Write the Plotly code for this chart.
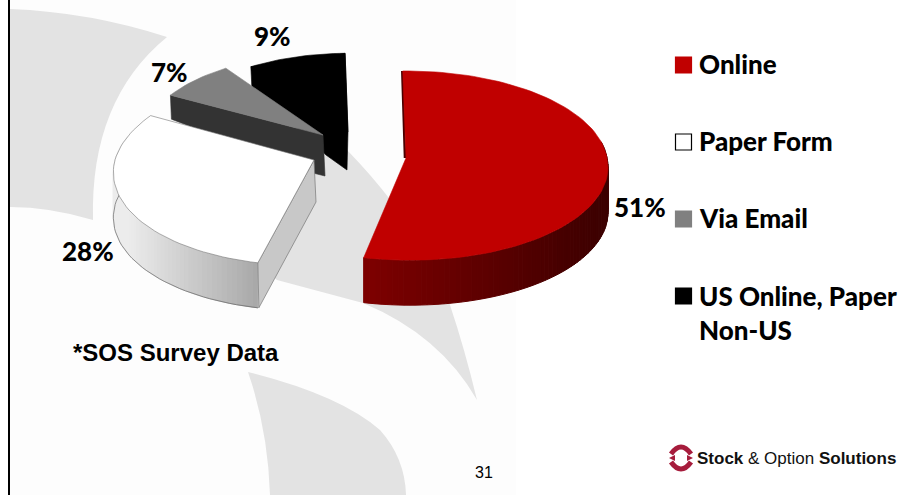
import math
import plotly.graph_objects as go

# ---- data ----
categories = ["Online", "Paper Form", "Via Email", "US Online, Paper<br>Non-US"]
percent = [51, 28, 7, 9]
top_colors = ["#c00000", "#ffffff", "#808080", "#000000"]

# ---- projection of each exploded slice (apex x, apex y, radius x, radius y, depth, back shear, front shear) ----
geom = {
    "Online": (406, 158, 201, 94, 45, 0.0, 0.04),
    "Paper Form": (314, 160, 199, 97, 45, -0.12, -0.10),
    "Via Email": (323, 135, 180, 87, 41, 0.0, 0.0),
    "US Online, Paper<br>Non-US": (348, 132, 180, 85, 38, 0.0, 0.0),
}
PERSP = 0.08
START = -1.0


def rim(cat, deg):
    ax, ay, a, b, _, sh, shf = geom[cat]
    t = math.radians(deg)
    c, s = math.cos(t), math.sin(t)
    p = 1 / (1 + PERSP * c)
    dy = -b * c * p
    return ax + a * s * p + (sh if dy < 0 else shf) * dy, ay + dy


def arc(cat, d0, d1, step=2.0):
    n = max(2, int(abs(d1 - d0) / step))
    return [rim(cat, d0 + (d1 - d0) * i / n) for i in range(n + 1)]


def mix(c0, c1, f):
    f = min(1, max(0, f))
    return "#%02x%02x%02x" % tuple(round(c0[i] + (c1[i] - c0[i]) * f) for i in range(3))


fig = go.Figure()


def poly(pts, fill, line=None, lw=0.6):
    fig.add_trace(go.Scatter(
        x=[p[0] for p in pts] + [pts[0][0]], y=[p[1] for p in pts] + [pts[0][1]],
        mode="lines", fill="toself", fillcolor=fill,
        line=dict(color=line or fill, width=lw), hoverinfo="skip", showlegend=False))


def wedge(cat, d0, d1, fill, line=None):
    ax, ay = geom[cat][:2]
    poly([(ax, ay)] + arc(cat, d0, d1), fill, line)


def side_rim(cat, d0, d1, cfun, step=1.5):
    depth = geom[cat][4]
    n = int(abs(d1 - d0) / step)
    for i in range(n):
        a0 = d0 + (d1 - d0) * i / n
        a1 = d0 + (d1 - d0) * (i + 1) / n
        p0, p1 = rim(cat, a0), rim(cat, a1)
        poly([p0, p1, (p1[0], p1[1] + depth), (p0[0], p0[1] + depth)], cfun((p0[0] + p1[0]) / 2), None, 1.0)


total = sum(percent)
bounds = [START]
for v in percent:
    bounds.append(bounds[-1] + 360 * v / total)
ang = {c: (bounds[i], bounds[i + 1]) for i, c in enumerate(categories)}

# US (black) slice
cat = categories[3]
d0, d1 = ang[cat]
ax, ay, *_ , dep, _sh, _shf = geom[cat]
p0, p1 = rim(cat, d0), rim(cat, d1)
poly([p0, (p0[0] + 1, p0[1] + 20), (ax - 22, ay + 23), (ax - 1, ay + dep), (ax, ay), p1], "#000000")
wedge(cat, d0, d1, top_colors[3])

# Email slice
cat = categories[2]
d0, d1 = ang[cat]
ax, ay, *_ , dep, _sh, _shf = geom[cat]
p0 = rim(cat, d0)
poly([p0, (ax, ay), (ax + 2, ay + dep), (ax - 10, ay + dep - 3), (p0[0] + 1, p0[1] + 24)], "#333333")
wedge(cat, d0, d1, top_colors[2])

# Paper slice
cat = categories[1]
d0, d1 = ang[cat]
ax, ay, *_ , dep, _sh, _shf = geom[cat]
front = rim(cat, d0)
side_rim(cat, d0, d0 + 92, lambda x: mix((168, 168, 168), (236, 236, 236), (front[0] - x) / 130))
pts = arc(cat, d0, d0 + 92)
fig.add_trace(go.Scatter(x=[p[0] for p in pts], y=[p[1] + dep for p in pts], mode="lines",
                         line=dict(color="#666666", width=0.7), hoverinfo="skip", showlegend=False))
poly([front, (ax, ay), (ax + 2, ay + dep - 3), (front[0] + 1, front[1] + dep)], "#c8c8c8", "#777777", 0.7)
wedge(cat, d0, d1, top_colors[1], "#777777")

# Online slice
cat = categories[0]
d0, d1 = ang[cat]
ax, ay, *_ , dep, _sh, _shf = geom[cat]
front = rim(cat, d1)
side_rim(cat, 80, d1, lambda x: mix((126, 0, 0), (60, 0, 0), (x - front[0]) / 240))
p0 = rim(cat, d0)
fig.add_trace(go.Scatter(x=[p0[0] - 0.5, ax - 1], y=[p0[1], ay], mode="lines",
                         line=dict(color="#4a0000", width=2.5), hoverinfo="skip", showlegend=False))
wedge(cat, d0, d1, top_colors[0])

# ---- page decoration ----
GREY = "#e3e3e3"
LOGO = "#a61c3c"
shapes = [
    dict(type="rect", x0=10, x1=516, y0=0, y1=495, fillcolor="#fdfdfd", line_width=0, layer="below"),
    dict(type="path", path="M10,9 Q90,12 167,37 Q90,100 93,220 Q50,207 10,207 Z",
         fillcolor=GREY, line_width=0, layer="below"),
    dict(type="path", path="M320,130 L347,150 Q420,225 450,305 Q465,350 477,400 Q440,335 363,303 L277,280 L240,250 Z",
         fillcolor=GREY, line_width=0, layer="below"),
    dict(type="path", path="M248,372 Q340,395 380,430 Q405,458 406,495 L270,495 Q268,430 248,372 Z",
         fillcolor=GREY, line_width=0, layer="below"),
    dict(type="line", x0=9, x1=9, y0=0, y1=495, line=dict(color="#000000", width=2), layer="below"),
    # logo ring
    dict(type="path", path="M671,454 Q681,440 691,454", line=dict(color=LOGO, width=5), layer="above"),
    dict(type="path", path="M671,462 Q681,476 691,462", line=dict(color=LOGO, width=5), layer="above"),
    dict(type="path", path="M669,458 L675,455 L675,461 Z", fillcolor=LOGO, line_width=0, layer="above"),
    dict(type="path", path="M693,458 L687,455 L687,461 Z", fillcolor=LOGO, line_width=0, layer="above"),
]
key_y = [65, 142, 219, 296]
key_text_y = [64, 141, 218, 313]
for yy, col in zip(key_y, top_colors):
    shapes.append(dict(type="rect", x0=675.5, x1=691.5, y0=yy - 8, y1=yy + 8, fillcolor=col,
                       line=dict(color="#000000" if col == "#ffffff" else col, width=1.2)))

annos = []


def text(x, y, s, size, family, anchor="center", color="#000000", align=None, weight=None):
    f = dict(size=size, family=family, color=color)
    if weight:
        f["weight"] = weight
    annos.append(dict(x=x, y=y, text=s, showarrow=False, xanchor=anchor, yanchor="middle",
                      font=f, align=align or anchor))


for cat, yy in zip(categories, key_text_y):
    text(697, yy, cat, 26, "Lato", "left", weight=900)
label_pos = [(640, 207), (88, 251), (169, 72), (272, 36)]
for v, (x, y) in zip(percent, label_pos):
    text(x, y, "%d%%" % v, 26, "Lato", weight=900)
text(71, 352, "<b>*SOS Survey Data</b>", 24, "Liberation Sans", "left")
text(484, 472, "31", 16, "Liberation Sans")
text(695, 458, "<b>Stock</b> &amp; Option <b>Solutions</b>", 17, "Liberation Sans", "left", "#111111")

fig.update_layout(
    width=904, height=495, margin=dict(l=0, r=0, t=0, b=0),
    paper_bgcolor="#ffffff", plot_bgcolor="rgba(0,0,0,0)",
    xaxis=dict(range=[0, 904], visible=False, fixedrange=True),
    yaxis=dict(range=[495, 0], visible=False, fixedrange=True),
    shapes=shapes, annotations=annos, showlegend=False,
)
fig.write_html("out.html", config={"displayModeBar": False},
               post_script="document.body.style.margin='0';document.documentElement.style.overflow='hidden';")
